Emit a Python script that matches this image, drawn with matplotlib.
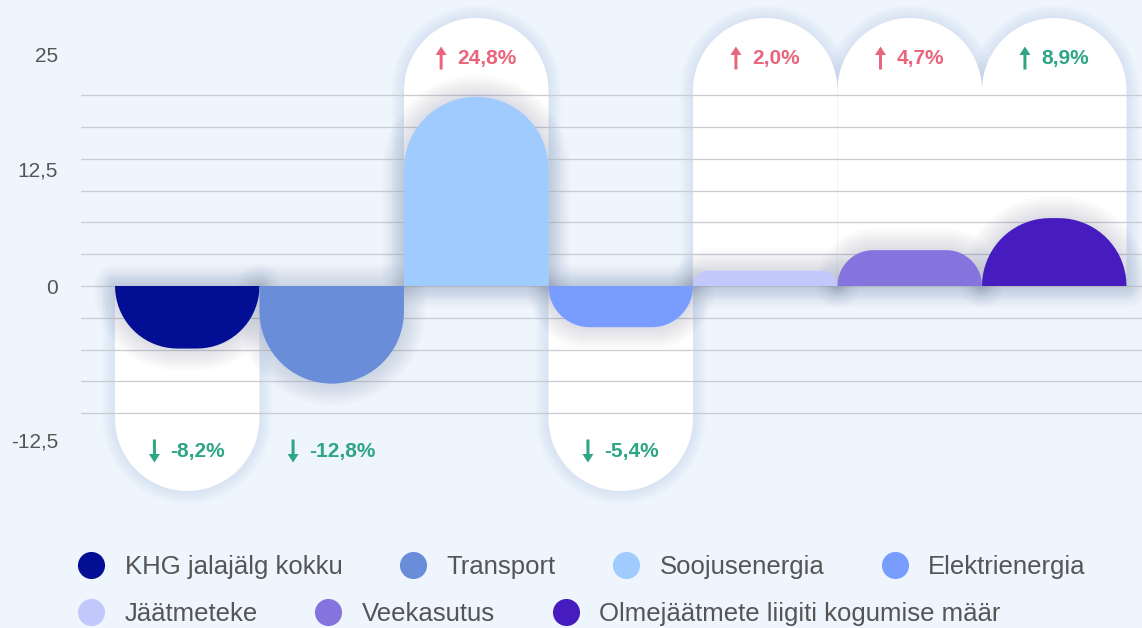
import numpy as np
import matplotlib
matplotlib.use("Agg")
import matplotlib.pyplot as plt
from matplotlib.patches import Polygon
from matplotlib.lines import Line2D
from matplotlib.transforms import Affine2D

# ---------------- data ----------------
categories = ["KHG jalajälg kokku", "Transport", "Soojusenergia", "Elektrienergia",
              "Jäätmeteke", "Veekasutus", "Olmejäätmete liigiti kogumise määr"]
values = [-8.2, -12.8, 24.8, -5.4, 2.0, 4.7, 8.9]
colors = ["#020f94", "#6a8dd9", "#9fcbff", "#789dff", "#c3c8fc", "#8574de", "#461cbf"]
increase_is_good = [False, False, False, False, False, False, True]
show_backdrop = [True, False, True, True, True, True, True]
ytick_labels = ["25", "12,5", "0", "-12,5"]
ytick_pos = [30.4, 15.3, 0.0, -20.2]

# ---------------- geometry ----------------
W, H, DPI = 1142, 628, 100
ax_l, ax_r, ax_t, ax_b = 81, 1142, 0, 515
zero_px = 286
ppy = 7.63            # pixels per y unit
band = 144.5          # pixels per category
first_left = 115
ppx = band

BG = "#eef5fd"
GOOD = "#2ea585"
BAD = "#e9657c"
TXT = "#555555"
FAM = ["Liberation Sans", "DejaVu Sans"]

fig = plt.figure(figsize=(W / DPI, H / DPI), dpi=DPI, facecolor=BG)
ax = fig.add_axes([ax_l / W, (H - ax_b) / H, (ax_r - ax_l) / W, (ax_b - ax_t) / H])
ax.set_facecolor(BG)
ax.set_xlim(-0.5 - (first_left - ax_l) / band, -0.5 + (ax_r - first_left) / band)
ax.set_ylim(-(ax_b - zero_px) / ppy, (zero_px - ax_t) / ppy)
for s in ax.spines.values():
    s.set_visible(False)
ax.set_xticks([])
ax.set_yticks(ytick_pos, ytick_labels)
ax.tick_params(axis="y", length=0, pad=16.5, labelsize=15, labelcolor=TXT)
for lab in ax.get_yticklabels():
    lab.set_family(FAM)


def rrect(xc, hw, y0_px, y1_px, r0, r1, e=0.0, n=20):
    """Rounded rectangle given in pixel units (y relative to zero line);
    r0 = radius at the y0 end, r1 = radius at the y1 end; e = outward expansion."""
    lo, hi = min(y0_px, y1_px) - e, max(y0_px, y1_px) + e
    r_lo, r_hi = (r0, r1) if y0_px <= y1_px else (r1, r0)
    r_lo += e
    r_hi += e
    hw = hw + e
    t = np.linspace(0, np.pi / 2, n)
    pts = []
    cx, cy = hw - r_lo, lo + r_lo
    pts += list(zip(cx + r_lo * np.sin(t), cy - r_lo * np.cos(t)))
    cx, cy = hw - r_hi, hi - r_hi
    pts += list(zip(cx + r_hi * np.cos(t), cy + r_hi * np.sin(t)))
    cx, cy = -hw + r_hi, hi - r_hi
    pts += list(zip(cx - r_hi * np.sin(t), cy + r_hi * np.cos(t)))
    cx, cy = -hw + r_lo, lo + r_lo
    pts += list(zip(cx - r_lo * np.cos(t), cy - r_lo * np.sin(t)))
    pts = np.array(pts)
    return np.column_stack([xc + pts[:, 0] / ppx, pts[:, 1] / ppy])


half = band / 2
pill_top_px = zero_px - 18
pill_bot_px = -(491 - zero_px)

# backdrops (white pills) with soft shadow
for i, v in enumerate(values):
    if not show_backdrop[i]:
        continue
    end = pill_top_px if v >= 0 else pill_bot_px
    for e in np.arange(1, 14, 1.5):
        ax.add_patch(Polygon(rrect(i, half, 0, end, 0, half, e=e), closed=True,
                             facecolor="#9cb4d6", edgecolor="none", alpha=0.028, zorder=1))
    ax.add_patch(Polygon(rrect(i, half, 0, end, 0, half), closed=True,
                         facecolor="white", edgecolor="none", zorder=2))

# grid lines
step = 31.8 / ppy
for k in range(-4, 7):
    ax.axhline(k * step, color="#c9cdd3", lw=0.9, zorder=3)

# bar shadows
for i, v in enumerate(values):
    h_px = v * ppy
    r = min(half, abs(h_px))
    for e in np.arange(2, 24, 2):
        ax.add_patch(Polygon(rrect(i, half, 0, h_px, 0, r, e=e), closed=True,
                             facecolor="#6a7890", edgecolor="none", alpha=0.019, zorder=4))

# bars
for i, v in enumerate(values):
    h_px = v * ppy
    r = min(half, abs(h_px))
    ax.add_patch(Polygon(rrect(i, half, 0, h_px, 0, r), closed=True,
                         facecolor=colors[i], edgecolor="none", zorder=5))

# value labels: arrow + number, centred as a group on the bar
fig.canvas.draw()
renderer = fig.canvas.get_renderer()
lab_up = (zero_px - 58.5) / ppy
lab_dn = -(451.5 - zero_px) / ppy
arrow_w, gap = 10, 11
for i, v in enumerate(values):
    up = v >= 0
    good = (up and increase_is_good[i]) or (not up and not increase_is_good[i])
    col = GOOD if good else BAD
    yv = lab_up if up else lab_dn
    num = f"{v:.1f}".replace(".", ",") + "%"
    t = ax.text(i, yv, num, ha="left", va="center", fontsize=15, fontweight="bold",
                color=col, family=FAM, zorder=6)
    tw = t.get_window_extent(renderer).width
    total = arrow_w + gap + tw
    cx_disp, cy_disp = ax.transData.transform((i, yv))
    left = cx_disp - total / 2
    t.set_transform(ax.transData + Affine2D().translate(left + arrow_w + gap - cx_disp, 0))
    sgn = 1 if up else -1
    sw, hw_, hh, L = 1.5, 5.5, 8.5, 11.5
    arr = np.array([(-sw, -L), (sw, -L), (sw, L - hh), (hw_, L - hh), (0, L),
                    (-hw_, L - hh), (-sw, L - hh)])
    arr[:, 1] *= sgn
    ax.add_patch(Polygon(arr, closed=True, facecolor=col, edgecolor="none", zorder=6,
                         transform=Affine2D().translate(left + arrow_w / 2, cy_disp + 0.5)))

# legend (two flowing rows)
def make_legend(idx, y_px):
    handles = [Line2D([], [], marker="o", linestyle="", markersize=19.5,
                      markerfacecolor=colors[j], markeredgecolor="none") for j in idx]
    lg = fig.legend(handles, [categories[j] for j in idx], loc="center left",
                    bbox_to_anchor=(77 / W, 1 - y_px / H), ncol=len(idx), frameon=False,
                    borderpad=0, borderaxespad=0, handlelength=1.1, handletextpad=0.75,
                    columnspacing=2.2, prop={"family": FAM, "size": 18.5})
    for tx in lg.get_texts():
        tx.set_color(TXT)
    return lg

make_legend([0, 1, 2, 3], 567)
make_legend([4, 5, 6], 614)

fig.savefig("out.png", dpi=DPI, facecolor=BG)
